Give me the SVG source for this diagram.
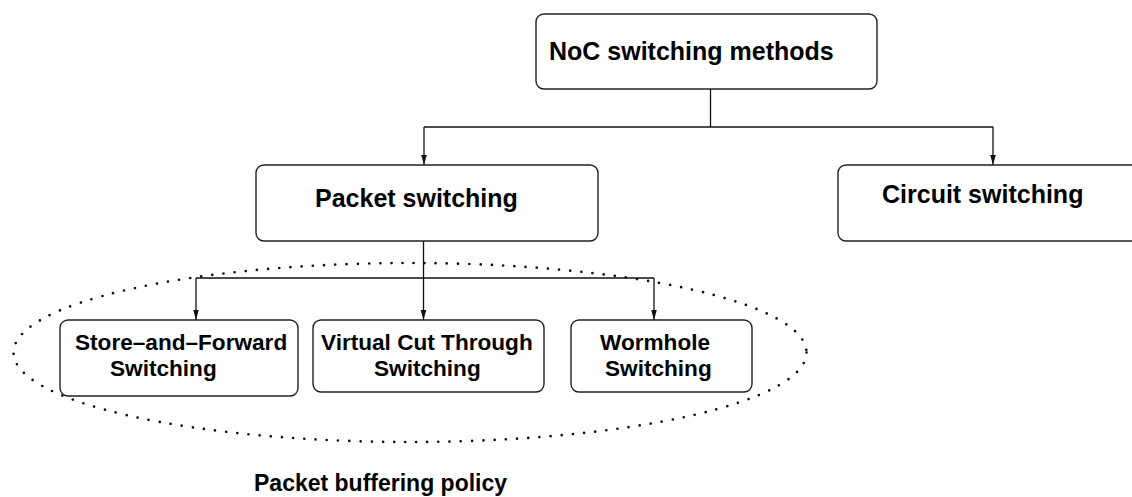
<svg xmlns="http://www.w3.org/2000/svg" width="1132" height="497" viewBox="0 0 1132 497">
<style>
.box{fill:#fff;stroke:#222;stroke-width:1.4}
.big{font-family:"Liberation Sans",Arial,sans-serif;font-weight:bold;font-size:25px;fill:#000}
.sm{font-family:"Liberation Sans",Arial,sans-serif;font-weight:bold;font-size:22.6px;fill:#000}
.ln{fill:none;stroke:#111;stroke-width:1.3}
.dot{fill:none;stroke:#111;stroke-width:2.7;stroke-linecap:round;stroke-dasharray:0 11.2}
</style>
<defs>
<marker id="ah" viewBox="0 0 10 10" refX="10" refY="5" markerWidth="10" markerHeight="10" markerUnits="userSpaceOnUse" orient="auto">
<path d="M0,2.2 L10,5 L0,7.8 Z" fill="#111"/>
</marker>
</defs>
<ellipse class="dot" cx="410" cy="352.5" rx="396.5" ry="89.5"/>
<g id="connectors">
<path class="ln" d="M710.5,89 V127"/>
<path class="ln" d="M424,127 H993"/>
<path class="ln" d="M424,127 V165" marker-end="url(#ah)"/>
<path class="ln" d="M993,127 V165" marker-end="url(#ah)"/>
<path class="ln" d="M423.5,241 V320" marker-end="url(#ah)"/>
<path class="ln" d="M196,278 H654"/>
<path class="ln" d="M196,278 V320" marker-end="url(#ah)"/>
<path class="ln" d="M654,278 V320" marker-end="url(#ah)"/>
</g>
<g id="noc">
<rect class="box" x="536" y="14" width="341" height="75" rx="8"/>
<text class="big" x="549" y="60">NoC switching methods</text>
</g>
<g id="packet">
<rect class="box" x="256" y="165" width="342" height="76" rx="8"/>
<text class="big" x="315" y="207">Packet switching</text>
</g>
<g id="circuit">
<rect class="box" x="838" y="165" width="320" height="76" rx="8"/>
<text class="big" x="882" y="203">Circuit switching</text>
</g>
<g id="saf">
<rect class="box" x="60" y="320" width="238" height="76" rx="8"/>
<text class="sm" x="75" y="350">Store–and–Forward</text>
<text class="sm" x="110" y="376">Switching</text>
</g>
<g id="vct">
<rect class="box" x="313" y="320" width="231" height="72" rx="8"/>
<text class="sm" x="321" y="350">Virtual Cut Through</text>
<text class="sm" x="374" y="376">Switching</text>
</g>
<g id="wormhole">
<rect class="box" x="571" y="320" width="181" height="72" rx="8"/>
<text class="sm" x="600" y="350">Wormhole</text>
<text class="sm" x="605" y="376">Switching</text>
</g>
<g id="label">
<text class="sm" x="254" y="491" style="font-size:23px">Packet buffering policy</text>
</g>
</svg>
